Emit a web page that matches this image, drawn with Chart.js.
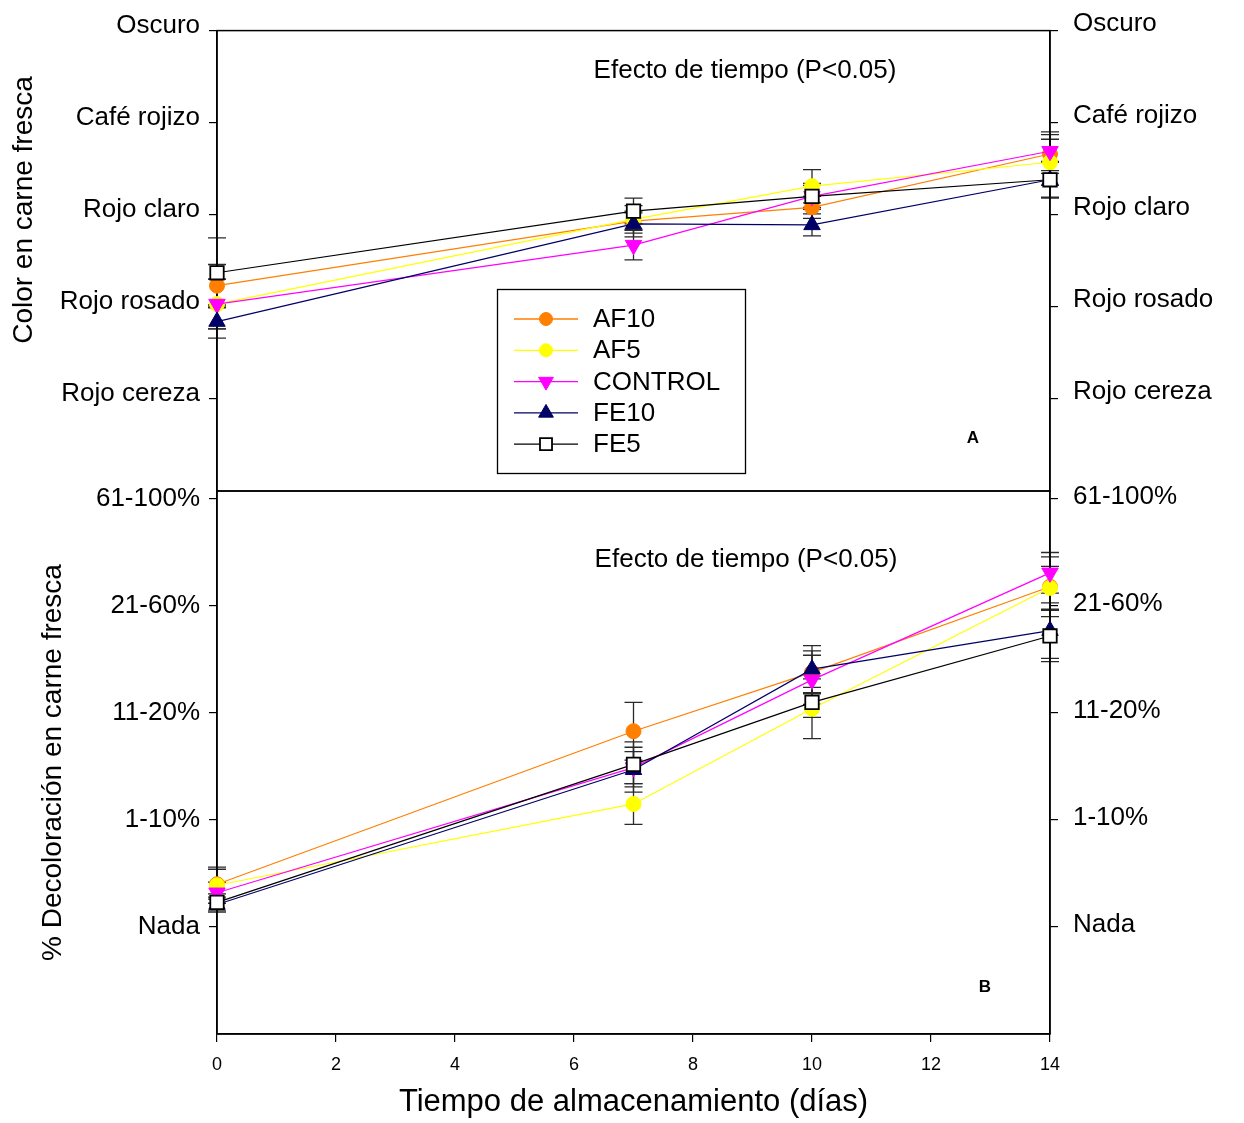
<!DOCTYPE html>
<html>
<head>
<meta charset="utf-8">
<script src="https://cdn.jsdelivr.net/npm/chart.js@4.4.1/dist/chart.umd.min.js"></script>
<style>
  body { margin: 0; background: #fff; }
  #wrap { position: relative; width: 1244px; height: 1123px; }
  canvas { position: absolute; left: 0; }
</style>
</head>
<body>
<div id="wrap">
  <canvas id="chartA" width="1244" height="531" style="top:0"></canvas>
  <canvas id="chartB" width="1244" height="673" style="top:450px"></canvas>
</div>
<script>
// dias de almacenamiento
const dias = [0, 7, 10, 14];
const ticksDias = [0, 2, 4, 6, 8, 10, 12, 14];

// escalas categoricas (1..5)
const etiquetasColor = ['Rojo cereza', 'Rojo rosado', 'Rojo claro', 'Café rojizo', 'Oscuro'];
const etiquetasDecol = ['Nada', '1-10%', '11-20%', '21-60%', '61-100%'];

// Panel A - color en carne fresca
const colorAF10    = [2.23, 2.93, 3.08, 3.66];
const colorAF5     = [2.03, 2.95, 3.31, 3.57];
const colorControl = [2.03, 2.67, 3.20, 3.69];
const colorFE10    = [1.84, 2.90, 2.89, 3.38];
const colorFE5     = [2.37, 3.04, 3.20, 3.38];
const errColorAF10    = [0.23, 0.09, 0.12, 0.21];
const errColorAF5     = [0.27, 0.15, 0.18, 0.25];
const errColorControl = [0.27, 0.16, 0.12, 0.21];
const errColorFE10    = [0.18, 0.14, 0.12, 0.20];
const errColorFE5     = [0.38, 0.14, 0.14, 0.19];

// Panel B - % decoloracion
const decolAF10    = [1.40, 2.83, 3.38, 4.18];
const decolAF5     = [1.39, 2.15, 3.04, 4.17];
const decolControl = [1.32, 2.49, 3.31, 4.31];
const decolFE10    = [1.21, 2.47, 3.41, 3.77];
const decolFE5     = [1.23, 2.52, 3.10, 3.72];
const errDecolAF10    = [0.14, 0.27, 0.20, 0.28];
const errDecolAF5     = [0.17, 0.19, 0.28, 0.20];
const errDecolControl = [0.10, 0.15, 0.23, 0.19];
const errDecolFE10    = [0.07, 0.21, 0.22, 0.26];
const errDecolFE5     = [0.08, 0.21, 0.14, 0.24];

const fuente = 'Liberation Sans, Arial, sans-serif';

// estilo de cada tratamiento
const estilos = [
  { label: 'AF10',    color: '#FF7F00', fondo: '#FF7F00', borde: '#FF7F00', forma: 'circle',   radio: 7.5, rot: 0,   orden: 5 },
  { label: 'AF5',     color: '#FFFF00', fondo: '#FFFF00', borde: '#FFFF00', forma: 'circle',   radio: 7.5, rot: 0,   orden: 4 },
  { label: 'CONTROL', color: '#FF00FF', fondo: '#FF00FF', borde: '#FF00FF', forma: 'triangle', radio: 9.5, rot: 180, orden: 3 },
  { label: 'FE10',    color: '#000066', fondo: '#000066', borde: '#000066', forma: 'triangle', radio: 9.5, rot: 0,   orden: 2 },
  { label: 'FE5',     color: '#000000', fondo: '#FFFFFF', borde: '#000000', forma: 'rect',     radio: 9.5, rot: 0,   orden: 1 }
];

function armarDatasets(valores, errores) {
  return estilos.map((e, k) => ({
    label: e.label,
    data: dias.map((d, i) => ({ x: d, y: valores[k][i] })),
    errores: errores[k],
    borderColor: e.color,
    borderWidth: 1.2,
    backgroundColor: e.fondo,
    pointStyle: e.forma,
    pointRadius: e.radio,
    pointRotation: e.rot,
    pointBackgroundColor: e.fondo,
    pointBorderColor: e.borde,
    pointBorderWidth: e.forma === 'rect' ? 1.8 : 1,
    tension: 0,
    clip: false,
    order: e.orden
  }));
}

// barras de error (antes de los puntos)
const barrasError = {
  id: 'barrasError',
  beforeDatasetsDraw(chart) {
    const ctx = chart.ctx, sx = chart.scales.x, sy = chart.scales.y;
    ctx.save();
    ctx.strokeStyle = '#2a2a2a';
    ctx.lineWidth = 1.3;
    chart.data.datasets.forEach(ds => {
      ds.data.forEach((p, i) => {
        const e = ds.errores[i];
        const px = sx.getPixelForValue(p.x);
        const yt = sy.getPixelForValue(p.y + e);
        const yb = sy.getPixelForValue(p.y - e);
        ctx.beginPath();
        ctx.moveTo(px, yt); ctx.lineTo(px, yb);
        ctx.moveTo(px - 9, yt); ctx.lineTo(px + 9, yt);
        ctx.moveTo(px - 9, yb); ctx.lineTo(px + 9, yb);
        ctx.stroke();
      });
    });
    ctx.restore();
  }
};

// marco + textos
const marcoTextos = {
  id: 'marcoTextos',
  beforeDatasetsDraw(chart) {
    const ctx = chart.ctx, a = chart.chartArea;
    ctx.save();
    ctx.strokeStyle = '#000';
    ctx.lineWidth = 1.5;
    ctx.strokeRect(a.left, a.top, a.right - a.left, a.bottom - a.top);
    ctx.restore();
  },
  afterDraw(chart, args, opts) {
    const ctx = chart.ctx;
    ctx.save();
    ctx.fillStyle = '#000';
    ctx.textAlign = 'center';
    ctx.textBaseline = 'middle';
    ctx.font = '26px ' + fuente;
    ctx.fillText('Efecto de tiempo (P<0.05)', opts.efecto[0], opts.efecto[1]);
    ctx.font = 'bold 17px ' + fuente;
    ctx.fillText(opts.letra, opts.letraPos[0], opts.letraPos[1]);
    if (opts.tituloY) {
      ctx.translate(opts.tituloY[1], opts.tituloY[2]);
      ctx.rotate(-Math.PI / 2);
      ctx.font = '28px ' + fuente;
      ctx.fillText(opts.tituloY[0], 0, 0);
    }
    ctx.restore();
  }
};

// leyenda dentro del panel A
const leyenda = {
  id: 'leyenda',
  afterDraw(chart) {
    const ctx = chart.ctx;
    ctx.save();
    ctx.fillStyle = '#fff';
    ctx.fillRect(497, 289, 248, 184);
    ctx.strokeStyle = '#000';
    ctx.lineWidth = 1.3;
    ctx.strokeRect(497.5, 289.5, 248, 184);
    chart.data.datasets.forEach((ds, i) => {
      const yy = 319 + i * 31.3;
      ctx.strokeStyle = ds.borderColor;
      ctx.lineWidth = 1.3;
      ctx.beginPath(); ctx.moveTo(514, yy); ctx.lineTo(578, yy); ctx.stroke();
      ctx.fillStyle = ds.pointBackgroundColor;
      ctx.strokeStyle = ds.pointBorderColor;
      ctx.lineWidth = ds.pointBorderWidth;
      Chart.helpers.drawPoint(ctx, {
        pointStyle: ds.pointStyle, radius: ds.pointRadius - 1,
        rotation: ds.pointRotation, borderWidth: ds.pointBorderWidth
      }, 546, yy);
      ctx.fillStyle = '#000';
      ctx.font = '26px ' + fuente;
      ctx.textAlign = 'left';
      ctx.textBaseline = 'middle';
      ctx.fillText(ds.label, 593, yy + 1);
    });
    ctx.restore();
  }
};

function ejeY(pos, etiquetas, maximo, offset) {
  return {
    type: 'linear',
    position: pos,
    min: 0,
    max: maximo,
    afterBuildTicks: s => { s.ticks = [1, 2, 3, 4, 5].map(v => ({ value: v })); },
    afterFit: s => { s.width = pos === 'left' ? 217 : 194; },
    ticks: {
      callback: v => etiquetas[v - 1],
      font: { family: fuente, size: 26 },
      color: '#000',
      padding: pos === 'left' ? 9 : 15,
      labelOffset: offset
    },
    grid: { drawOnChartArea: false, tickLength: 8, color: '#000', lineWidth: 1.2 },
    border: { color: '#000', width: 1.5 }
  };
}

const ejeX = (visible) => ({
  type: 'linear',
  min: 0,
  max: 14,
  display: visible,
  afterBuildTicks: s => { s.ticks = ticksDias.map(v => ({ value: v })); },
  afterFit: s => { s.height = visible ? 89 : 0; },
  ticks: { font: { family: fuente, size: 18 }, color: '#000', padding: 12 },
  grid: { drawOnChartArea: false, tickLength: 8, color: '#000', lineWidth: 1.2 },
  border: { color: '#000', width: 1.5 },
  title: {
    display: true,
    text: 'Tiempo de almacenamiento (días)',
    font: { family: fuente, size: 31 },
    color: '#000',
    padding: { top: 0, bottom: 2 }
  }
});

// Grafico A (padding inferior mayor que el margen de las etiquetas)
new Chart(document.getElementById('chartA').getContext('2d'), {
  type: 'line',
  data: {
    datasets: armarDatasets(
      [colorAF10, colorAF5, colorControl, colorFE10, colorFE5],
      [errColorAF10, errColorAF5, errColorControl, errColorFE10, errColorFE5])
  },
  options: {
    responsive: false,
    animation: false,
    layout: { padding: { top: 29, bottom: 40, left: 0, right: 0 } },
    scales: {
      x: ejeX(false),
      y: ejeY('left', etiquetasColor, 5, -5),
      y2: ejeY('right', etiquetasColor, 5, -7)
    },
    plugins: {
      legend: { display: false },
      tooltip: { enabled: false },
      marcoTextos: {
        efecto: [745, 71],
        letra: 'A',
        letraPos: [973, 438],
        tituloY: ['Color en carne fresca', 24, 210]
      }
    }
  },
  plugins: [barrasError, marcoTextos, leyenda]
});

// Grafico B (canvas desplazado 450 px hacia abajo)
const ejeYB = ejeY('left', etiquetasDecol, 5.075, 0);
ejeYB.title = {
  display: true,
  text: '% Decoloración en carne fresca',
  font: { family: fuente, size: 28 },
  color: '#000',
  padding: { top: 36, bottom: 0 }
};
new Chart(document.getElementById('chartB').getContext('2d'), {
  type: 'line',
  data: {
    datasets: armarDatasets(
      [decolAF10, decolAF5, decolControl, decolFE10, decolFE5],
      [errDecolAF10, errDecolAF5, errDecolControl, errDecolFE10, errDecolFE5])
  },
  options: {
    responsive: false,
    animation: false,
    layout: { padding: { top: 41, bottom: 0, left: 0, right: 0 } },
    scales: {
      x: ejeX(true),
      y: ejeYB,
      y2: ejeY('right', etiquetasDecol, 5.075, -2)
    },
    plugins: {
      legend: { display: false },
      tooltip: { enabled: false },
      marcoTextos: {
        efecto: [746, 110],
        letra: 'B',
        letraPos: [985, 537]
      }
    }
  },
  plugins: [barrasError, marcoTextos]
});
</script>
</body>
</html>
